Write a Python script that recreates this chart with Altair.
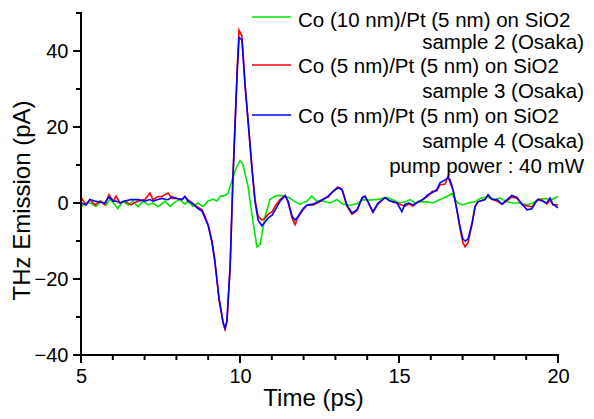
import altair as alt
import pandas as pd

# ---- data ----
t_green = [5.00, 5.16, 5.31, 5.47, 5.63, 5.79, 5.91, 6.07, 6.16, 6.32, 6.48, 6.64, 6.79, 6.95,
           7.11, 7.26, 7.42, 7.64, 7.80, 7.96, 8.11, 8.27, 8.36, 8.52, 8.68, 8.84, 8.99, 9.15,
           9.28, 9.37, 9.53, 9.62, 9.75, 9.87, 10.00, 10.09, 10.25, 10.41, 10.53, 10.63, 10.79,
           10.88, 10.94, 11.10, 11.26, 11.42, 11.57, 11.73, 11.89, 12.11, 12.26, 12.42, 12.61,
           12.83, 13.05, 13.24, 13.46, 13.68, 13.87, 14.09, 14.31, 14.62, 14.81, 15.03, 15.19,
           15.35, 15.50, 15.69, 15.88, 16.07, 16.29, 16.51, 16.67, 16.76, 16.86, 17.01, 17.17,
           17.39, 17.55, 17.77, 18.02, 18.18, 18.40, 18.58, 18.81, 19.03, 19.21, 19.37, 19.59,
           19.81, 20.00]
v_green = [-1.0, 0.0, 0.0, -0.9, 0.5, -0.5, 1.0, -0.5, -1.5, 0.5, -0.5, 0.5, -1.0, 0.5,
           -0.5, 0.0, -1.0, 0.5, -0.9, 0.3, 0.9, -0.3, 0.5, -0.9, 0.0, -0.9, 0.5, 1.0,
           0.5, 1.7, 2.0, 2.5, 6.0, 9.0, 11.2, 10.2, 4.5, -5.0, -11.5, -11.0, -3.5,
           -1.0, 0.9, 1.8, 2.0, 1.8, 1.3, 0.3, -0.3, 0.5, 1.8, 0.5, 0.5,
           0.0, 0.9, -0.3, -0.6, -0.2, 0.9, 0.8, 0.9, 1.5, 0.8, 0.0, 0.3,
           0.9, 0.0, 0.3, 0.3, 0.0, 0.9, 1.7, 2.5, 0.9, 0.0, -0.5, 0.0,
           0.3, 1.2, 1.6, 0.9, 1.3, 0.3, 0.0, 0.0, -0.5, 0.0, 0.9, 1.2,
           0.9, 1.7]

t_rb = [5.00, 5.16, 5.28, 5.44, 5.60, 5.75, 5.88, 6.01, 6.10, 6.23, 6.38, 6.57, 6.79, 7.01,
        7.17, 7.26, 7.42, 7.55, 7.64, 7.74, 7.86, 8.02, 8.18, 8.27, 8.36, 8.49, 8.65, 8.81,
        8.90, 9.00, 9.12, 9.21, 9.34, 9.47, 9.53, 9.59, 9.69, 9.78, 9.91, 9.97, 10.06, 10.16,
        10.25, 10.38, 10.47, 10.57, 10.69, 10.79, 10.88, 11.01, 11.13, 11.26, 11.42, 11.51,
        11.64, 11.73, 11.82, 11.98, 12.11, 12.30, 12.52, 12.67, 12.77, 12.92, 13.08, 13.21,
        13.36, 13.52, 13.68, 13.84, 13.93, 14.03, 14.18, 14.34, 14.56, 14.72, 14.94, 15.09,
        15.19, 15.31, 15.44, 15.60, 15.75, 15.91, 16.04, 16.19, 16.29, 16.45, 16.54, 16.60,
        16.70, 16.82, 16.92, 17.01, 17.08, 17.17, 17.30, 17.39, 17.48, 17.70, 17.80, 17.92,
        18.08, 18.24, 18.40, 18.55, 18.71, 18.87, 19.03, 19.18, 19.28, 19.37, 19.50, 19.65,
        19.75, 19.84, 20.00]
v_red = [1.5, -0.5, 0.9, -0.5, 0.5, -0.5, 2.2, 0.5, 1.8, 0.0, 0.5, -0.5, 0.5, 0.9,
         2.6, 0.9, 1.7, 1.7, 2.2, 2.6, 1.2, 1.2, 0.9, 1.7, 0.9, 0.0, -1.0, -1.8,
         -3.6, -5.7, -10.0, -15.0, -25.5, -31.6, -33.2, -31.0, -17.0, 7.0, 35.0, 45.5, 44.0, 31.0,
         22.0, 8.8, 1.0, -3.5, -4.5, -4.0, -3.0, -2.3, -0.5, 0.9, 2.0, 0.2,
         -4.0, -5.7, -3.8, -1.8, -0.6, -0.5, 0.4, 1.3, 1.5, 3.0, 4.2, 3.6,
         -0.8, -3.0, -2.0, 1.2, 1.8, 0.2, -2.5, -0.3, 1.4, 0.5, 0.0, -0.5,
         -0.8, -0.3, -0.8, 0.3, 0.9, 1.8, 3.0, 3.2, 4.8, 5.0, 7.0, 5.5,
         3.5, -1.8, -6.8, -10.5, -11.5, -10.5, -5.5, -1.2, 0.3, 0.9, 2.0, 1.0,
         0.5, -0.3, 0.6, 1.6, 1.2, -0.5, -0.8, -1.0, 0.0, 1.0, 0.8, -0.3,
         0.8, -0.5, -0.5]
v_blue = [0.0, -0.5, 0.9, 0.5, 0.2, 0.0, 1.6, 0.5, 0.5, 0.0, 0.5, 0.9, 0.9, 0.5,
          0.9, 0.5, 0.9, 1.2, 1.0, 0.9, 1.6, 1.2, 0.9, 1.7, 0.5, 0.0, -1.3, -2.2,
          -4.0, -6.0, -10.5, -15.5, -25.0, -31.5, -33.0, -31.0, -16.5, 7.0, 34.0, 43.5, 43.0, 31.0,
          22.0, 8.8, 0.5, -4.5, -6.0, -5.0, -4.0, -3.2, -1.5, 0.5, 1.9, 0.5,
          -3.5, -4.5, -3.6, -1.5, -0.5, -0.3, 0.6, 1.2, 1.8, 3.0, 4.0, 3.5,
          -0.5, -2.6, -1.8, 1.4, 1.8, 0.2, -2.3, 0.0, 1.4, 0.5, 0.0, -2.3,
          -0.3, 0.0, -0.5, 0.3, 0.9, 2.2, 2.7, 3.5, 5.3, 6.1, 6.7, 6.2,
          3.5, -1.8, -6.3, -9.5, -10.0, -9.5, -5.2, -0.9, 0.3, 0.9, 2.2, 1.0,
          0.9, -0.3, 0.9, 2.0, 1.5, -0.3, -1.8, -1.5, 0.0, 0.9, 0.5, 0.0,
          1.3, -0.3, -1.3]

x_major = [5, 10, 15, 20]
x_minor = [6, 7, 8, 9, 11, 12, 13, 14, 16, 17, 18, 19]
y_major = [-40, -20, 0, 20, 40]
y_minor = [-30, -10, 10, 30, 50]

legend_main = ["Co (10 nm)/Pt (5 nm) on SiO2", "Co (5 nm)/Pt (5 nm) on SiO2", "Co (5 nm)/Pt (5 nm) on SiO2"]
legend_sub = ["sample 2 (Osaka)", "sample 3 (Osaka)", "sample 4 (Osaka)"]
note = "pump power : 40 mW"

GREEN, RED, BLUE = "#00e600", "#ff0000", "#0000ff"
FONT = "Liberation Sans"
W, H = 477, 342

df_g = pd.DataFrame({"t": t_green, "v": v_green})
df_r = pd.DataFrame({"t": t_rb, "v": v_red})
df_b = pd.DataFrame({"t": t_rb, "v": v_blue})

xscale = alt.Scale(domain=[5, 20], nice=False, zero=False)
yscale = alt.Scale(domain=[-40, 50], nice=False, zero=False)

# axis: labels and titles from Vega-Lite; the axis lines and ticks are drawn as rules below
xaxis = alt.Axis(
    values=x_major, domain=False, ticks=False, tickSize=8, grid=False,
    labelFont=FONT, labelColor="black", labelFontSize=20, labelPadding=11,
    labelFlush=False, labelOverlap=False,
    title="Time (ps)", titleFont=FONT, titleColor="black", titleFontWeight="normal",
    titleFontSize=24, titleX=232, titleY=50, titleBaseline="alphabetic",
)
yaxis = alt.Axis(
    values=y_major, domain=False, ticks=False, tickSize=8, grid=False,
    labelFont=FONT, labelColor="black", labelFontSize=20, labelPadding=13, labelOverlap=False,
    title="THz Emission (pA)", titleFont=FONT, titleColor="black", titleFontWeight="normal",
    titleFontSize=24, titleX=-47, titleY=187, titleBaseline="bottom", titleAngle=270,
)

green = alt.Chart(df_g).mark_line(color=GREEN, strokeWidth=1.6).encode(
    x=alt.X("t:Q", scale=xscale, axis=xaxis),
    y=alt.Y("v:Q", scale=yscale, axis=yaxis),
)
red = alt.Chart(df_r).mark_line(color=RED, strokeWidth=1.6).encode(
    x=alt.X("t:Q", scale=xscale, axis=xaxis), y=alt.Y("v:Q", scale=yscale, axis=yaxis)
)
blue = alt.Chart(df_b).mark_line(color=BLUE, strokeWidth=1.6).encode(
    x=alt.X("t:Q", scale=xscale, axis=xaxis), y=alt.Y("v:Q", scale=yscale, axis=yaxis)
)


def xticks(vals, length):
    return alt.Chart(pd.DataFrame({"m": vals})).mark_rule(color="black", strokeWidth=2).encode(
        x=alt.X("m:Q", scale=xscale, axis=xaxis), y=alt.value(H), y2=alt.value(H + length)
    )


def yticks(vals, length):
    return alt.Chart(pd.DataFrame({"m": vals})).mark_rule(color="black", strokeWidth=2).encode(
        y=alt.Y("m:Q", scale=yscale, axis=yaxis), x=alt.value(-length), x2=alt.value(0)
    )


x_line = alt.Chart(pd.DataFrame({"m": [5, 20]})).mark_line(
    color="black", strokeWidth=2, strokeCap="square"
).encode(x=alt.X("m:Q", scale=xscale, axis=xaxis), y=alt.value(H))
y_line = alt.Chart(pd.DataFrame({"m": [-40, 50]})).mark_line(
    color="black", strokeWidth=2, strokeCap="square"
).encode(y=alt.Y("m:Q", scale=yscale, axis=yaxis), x=alt.value(0))

one = pd.DataFrame({"k": [0]})


def txt(s, x, y, align="left"):
    return alt.Chart(one).mark_text(
        font=FONT, fontSize=20.5, color="black", align=align, baseline="alphabetic"
    ).encode(x=alt.value(x), y=alt.value(y), text=alt.value(s))


def key(color, y):
    return alt.Chart(one).mark_rule(color=color, strokeWidth=1.6).encode(
        x=alt.value(171), x2=alt.value(210), y=alt.value(y)
    )


layers = [
    green, red, blue,
    key(GREEN, 4), key(RED, 52), key(BLUE, 102),
    txt(legend_main[0], 217, 14), txt(legend_sub[0], 503, 36, "right"),
    txt(legend_main[1], 217, 60), txt(legend_sub[1], 503, 85, "right"),
    txt(legend_main[2], 217, 110), txt(legend_sub[2], 503, 135, "right"),
    txt(note, 503, 160, "right"),
    x_line, y_line,
    xticks(x_major, 8), xticks(x_minor, 5),
    yticks(y_major, 8), yticks(y_minor, 5),
]

chart = alt.layer(*layers).properties(
    width=W, height=H,
    autosize=alt.AutoSizeParams(type="none"),
    padding={"left": 73, "top": 5, "right": 28, "bottom": 56},
).configure_view(stroke=None).configure_axis(grid=False)

chart.save("out.html", embed_options={"renderer": "svg", "actions": False})
